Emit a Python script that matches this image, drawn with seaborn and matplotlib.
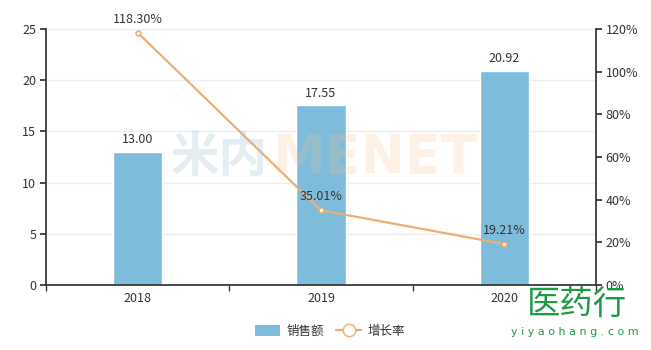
import matplotlib
matplotlib.use("Agg")
import matplotlib.pyplot as plt
import seaborn as sns
from matplotlib.patches import Patch
from matplotlib.lines import Line2D

years = ["2018", "2019", "2020"]
sales = [13.00, 17.55, 20.92]
growth = [118.30, 35.01, 19.21]
sales_name = "销售额"
growth_name = "增长率"
left_ticks = [0, 5, 10, 15, 20, 25]
right_ticks = [0, 20, 40, 60, 80, 100, 120]

sns.set_theme(style="white")
plt.rcParams['font.family'] = ['Noto Sans CJK SC', 'DejaVu Sans']

BAR = "#7dbddb"
LINE = "#f0ad72"
TXT = "#333333"
AX = "#333333"

fig = plt.figure(figsize=(6.51, 3.5), dpi=100)
ax = fig.add_axes([46/651, 65/350, 550/651, 256/350])

sns.barplot(x=years, y=sales, ax=ax, color=BAR, width=0.27, saturation=1, zorder=2)
ax.set_xlim(-0.5, 2.5)
ax.set_ylim(0, 25)
ax.set_yticks(left_ticks)
ax.yaxis.grid(True, color="#eeeeee", linewidth=1, zorder=0)
ax.set_axisbelow(True)
for s in ["top", "right"]:
    ax.spines[s].set_visible(False)
ax.spines["left"].set_color(AX)
ax.spines["bottom"].set_color(AX)
ax.tick_params(axis="y", which="both", left=True, length=4, color=AX, labelcolor=TXT, labelsize=9, pad=3)
ax.set_xticks([0, 1, 2])
ax.set_xticklabels(years)
ax.tick_params(axis="x", which="major", length=0, labelcolor=TXT, labelsize=9, pad=5)
ax.set_xticks([-0.5, 0.5, 1.5, 2.5], minor=True)
ax.tick_params(axis="x", which="minor", bottom=True, length=4, color=AX)
ax.set_xlabel("")
ax.set_ylabel("")

for i, v in enumerate(sales):
    ax.annotate(f"{v:.2f}", (i, v), xytext=(0, 4), textcoords="offset points",
                ha="center", va="bottom", fontsize=9, color=TXT, zorder=5)

# watermark
fig.text(268/651, 1 - 158/350, "米内", fontsize=35, fontweight="bold",
         color="#9fc2d2", alpha=0.28, ha="right", va="center", zorder=3)
fig.text(272/651, 1 - 158/350, "MENET", fontsize=38, fontweight="bold",
         color="#f8c08e", alpha=0.22, ha="left", va="center", zorder=3, family="DejaVu Sans")

ax2 = ax.twinx()
sns.pointplot(x=years, y=growth, ax=ax2, color=LINE, markers="o", markersize=3.5,
              linewidth=1.6, markerfacecolor="white", markeredgecolor=LINE,
              markeredgewidth=1.2, errorbar=None)
ax2.set_xlim(-0.5, 2.5)
ax2.set_ylim(0, 120)
ax2.set_yticks(right_ticks)
ax2.set_yticklabels([f"{t}%" for t in right_ticks])
for s in ["top", "left", "bottom"]:
    ax2.spines[s].set_visible(False)
ax2.spines["right"].set_color(AX)
ax2.tick_params(axis="y", right=True, length=4, color=AX, labelcolor=TXT, labelsize=9, pad=3)
ax2.grid(False)
ax2.set_ylabel("")
ax2.set_xlabel("")
for i, v in enumerate(growth):
    ax2.annotate(f"{v:.2f}%", (i, v), xytext=(0, 5), textcoords="offset points",
                 ha="center", va="bottom", fontsize=9, color=TXT, zorder=5)

handles = [Patch(facecolor=BAR, edgecolor="none", label=sales_name),
           Line2D([0], [0], color=LINE, marker="o", markersize=9, markerfacecolor="white",
                  markeredgecolor=LINE, linewidth=1.6, label=growth_name)]
fig.legend(handles=handles, loc="center", bbox_to_anchor=(330/651, 1 - 331/350), ncol=2,
           frameon=False, fontsize=9, handlelength=2.0, handleheight=1.0,
           columnspacing=1.0, handletextpad=0.5, labelcolor=TXT)

# logo
fig.text(577/651, 1 - 304/350, "医药行", fontsize=24, color="#1e9a45", ha="center", va="center")
fig.text(575/651, 1 - 332/350, "y i y a o h a n g . c o m", fontsize=8, color="#1e9a45",
         ha="center", va="center", family="DejaVu Sans")

fig.savefig("out.png", dpi=100)
